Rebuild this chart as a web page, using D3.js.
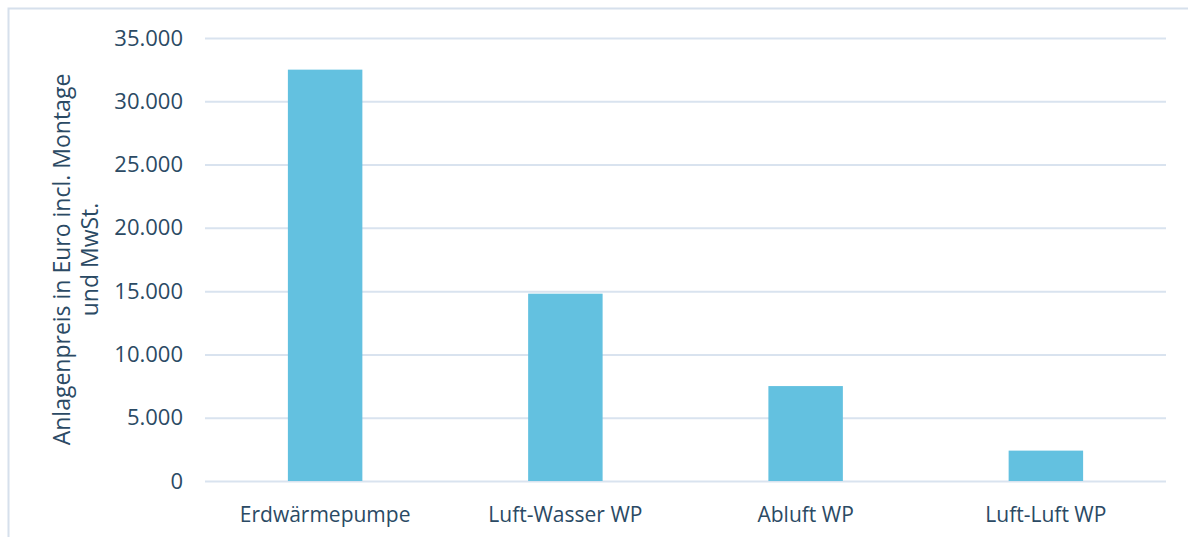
<!DOCTYPE html>
<html>
<head>
<meta charset="utf-8">
<script src="https://cdn.jsdelivr.net/npm/d3@7"></script>
<style>
  body { margin: 0; background: #fff; }
  svg { display: block; font-family: "Open Sans", sans-serif; }
</style>
</head>
<body>
<div id="chart"></div>
<script>
let width = 1188;
let height = 537;
let margin = ({top: 38, right: 22, bottom: 56, left: 205});

let categories = ["Erdwärmepumpe", "Luft-Wasser WP", "Abluft WP", "Luft-Luft WP"];
let prices = [32500, 14800, 7500, 2400];
let yTicks = [0, 5000, 10000, 15000, 20000, 25000, 30000, 35000];
let yTitle = ["Anlagenpreis in Euro incl. Montage", "und MwSt."];

let data = categories.map((c, i) => ({cat: c, value: prices[i]}));

let textColor = "#2b4a64";

let svg = d3.select("#chart")
    .append("svg")
    .attr("width", width)
    .attr("height", height);

// outer frame
svg.append("rect")
    .attr("x", 8.5).attr("y", 8.5)
    .attr("width", width + 20).attr("height", height + 20)
    .attr("fill", "none")
    .attr("stroke", "#d6e0ec")
    .attr("stroke-width", 2);

let x = d3.scaleBand()
    .domain(categories)
    .range([margin.left, width - margin.right])
    .paddingInner(0.69)
    .paddingOuter(0.345);

let y = d3.scaleLinear()
    .domain([0, 35000])
    .range([height - margin.bottom, margin.top]);

let fmt = d => d3.format(",")(d).replace(/,/g, ".");

// grid + y labels
let yAxis = g => g
    .attr("transform", `translate(${margin.left},0)`)
    .call(d3.axisLeft(y).tickValues(yTicks).tickFormat(fmt).tickSize(-(width - margin.left - margin.right)).tickPadding(22))
    .attr("font-size", null)
    .attr("font-family", null)
    .call(g => g.select(".domain").remove())
    .call(g => g.selectAll(".tick line").attr("stroke", "#d9e3ef").attr("stroke-width", 2))
    .call(g => g.selectAll(".tick text").attr("fill", textColor).style("font-size", "22px"));

svg.append("g").call(yAxis);

svg.append("g")
    .attr("fill", "#63c1e0")
    .selectAll("rect")
    .data(data)
    .join("rect")
    .attr("x", d => x(d.cat))
    .attr("y", d => y(d.value))
    .attr("width", x.bandwidth())
    .attr("height", d => y(0) - y(d.value));

// category labels
svg.append("g")
    .selectAll("text")
    .data(categories)
    .join("text")
    .attr("x", d => x(d) + x.bandwidth() / 2)
    .attr("y", height - margin.bottom + 41)
    .attr("text-anchor", "middle")
    .attr("fill", textColor)
    .style("font-size", "21px")
    .text(d => d);

// y title
let title = svg.append("text")
    .attr("transform", `translate(70,${(margin.top + height - margin.bottom) / 2}) rotate(-90)`)
    .attr("text-anchor", "middle")
    .attr("fill", textColor)
    .style("font-size", "23px");
title.selectAll("tspan")
    .data(yTitle)
    .join("tspan")
    .attr("x", 0)
    .attr("dy", (d, i) => i == 0 ? 0 : 28)
    .text(d => d);
</script>
</body>
</html>
